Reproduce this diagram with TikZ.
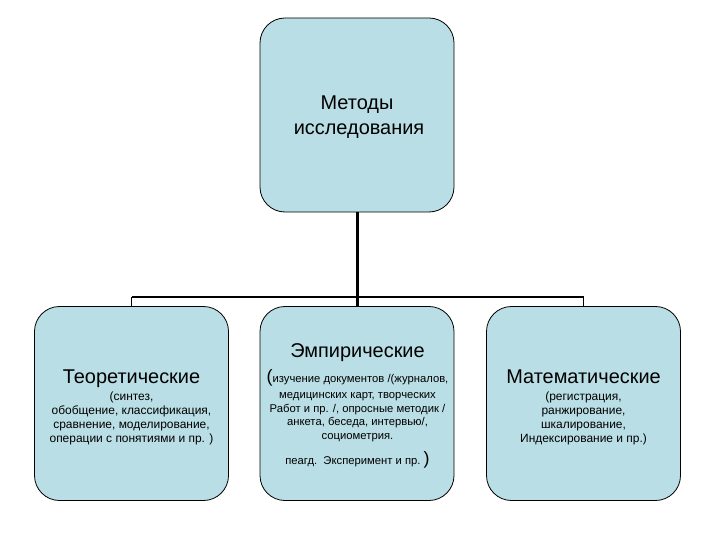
\documentclass[tikz,border=0pt]{standalone}
\usepackage{fontspec}
\setmainfont{Liberation Sans}
\definecolor{boxfill}{RGB}{185,222,229}
\tikzset{
  box/.style={draw=black, line width=0.8bp, fill=boxfill, rounded corners=25bp,
    minimum width=194bp, minimum height=194bp, inner sep=0pt},
  ttl/.style={inner sep=0pt, anchor=base, font=\fontsize{20}{24}\selectfont},
  body/.style={inner sep=0pt, anchor=base, font=\fontsize{12}{14}\selectfont},
  small/.style={inner sep=0pt, anchor=base, font=\fontsize{11.3}{13}\selectfont},
  trunk/.style={draw=black, line width=3bp},
  barline/.style={draw=black, line width=2.2bp},
  drop/.style={draw=black, line width=1.2bp}
}
\begin{document}
\begin{tikzpicture}[x=1bp,y=-1bp]
\useasboundingbox (0,0) rectangle (720,540);
% boxes
\node[box] (top)  at (357,115) {};
\node[box] (theo) at (131.5,403.5) {};
\node[box] (emp)  at (357,403.5) {};
\node[box] (math) at (583.5,403.5) {};
% connectors
\coordinate (barL) at ([yshift=9bp]theo.north);
\coordinate (barR) at ([yshift=9bp]math.north);
\draw[trunk] (top.south) -- (emp.north);
\draw[barline] (barL) -- (barR);
\draw[drop] (barL) -- (theo.north);
\draw[drop] (barR) -- (math.north);
% top text
\node[ttl] (topA) at (357,110) {Методы};
\node[ttl] (topB) at (359,135) {исследования};
% theoretical
\node[ttl]  (theoT) at (131.5,383) {Теоретические};
\node[body] (theo1) at (131.5,400) {(синтез,};
\node[body] (theo2) at (131.5,414) {обобщение, классификация,};
\node[body] (theo3) at (131.5,428) {сравнение, моделирование,};
\node[body] (theo4) at (131.5,442) {операции с понятиями и пр. )};
% empirical
\node[ttl]   (empT) at (357.5,357) {Эмпирические};
\node[small] (emp1) at (357.5,382.5) {{\fontsize{18}{18}\selectfont(}изучение документов /(журналов,};
\node[small] (emp2) at (357.5,398.5) {медицинских карт, творческих};
\node[small] (emp3) at (357.5,412) {Работ и пр. /, опросные методик /};
\node[small] (emp4) at (357.5,425.5) {анкета, беседа, интервью/,};
\node[small] (emp5) at (357.5,439) {социометрия.};
\node[small] (emp6) at (357.5,464) {пеагд.\ \ Эксперимент и пр.\ {\fontsize{18}{18}\selectfont)}};
% mathematical
\node[ttl]  (mathT) at (583.5,383) {Математические};
\node[body] (math1) at (583.5,400) {(регистрация,};
\node[body] (math2) at (583.5,414) {ранжирование,};
\node[body] (math3) at (583.5,428) {шкалирование,};
\node[body] (math4) at (583.5,442) {Индексирование и пр.)};
\end{tikzpicture}
\end{document}
